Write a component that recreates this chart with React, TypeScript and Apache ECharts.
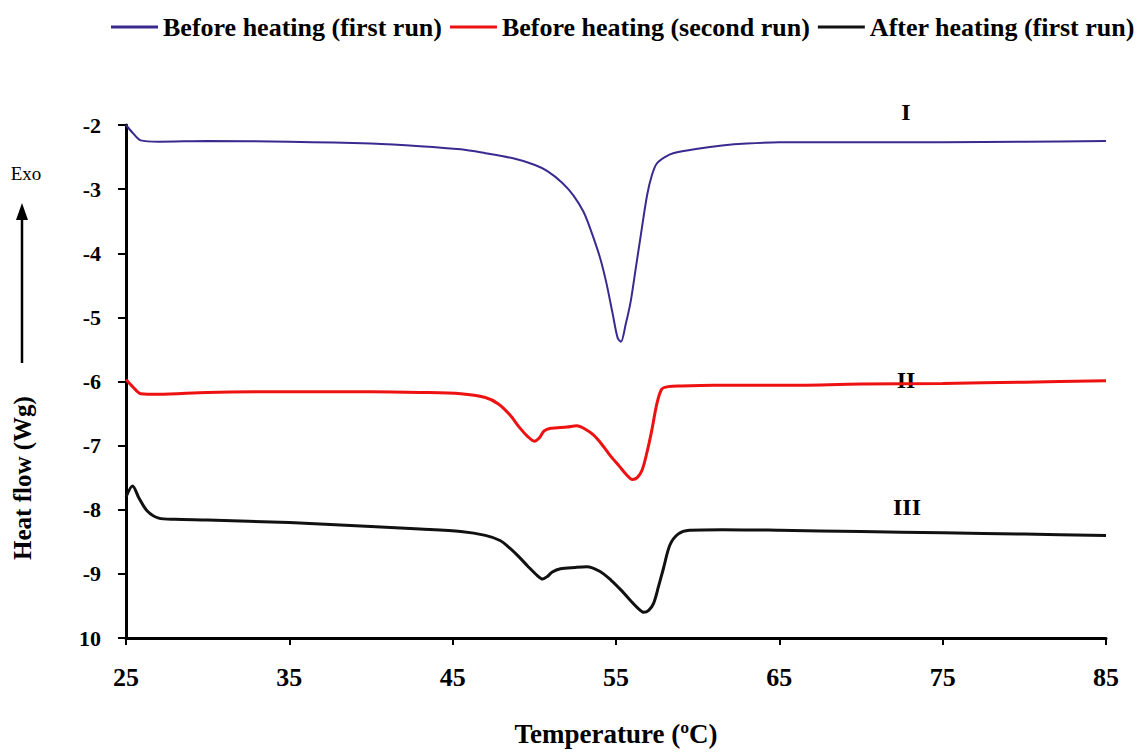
import React, { useEffect, useRef } from "react";
import * as echarts from "echarts";

const seriesNames = ["Before heating (first run)", "Before heating (second run)", "After heating (first run)"];
const seriesColors = ["#3a2a90", "#ee1111", "#111111"];

const beforeFirst: [number, number][] = [
  [25, -2.0], [25.4, -2.12], [25.9, -2.24], [27, -2.26], [30, -2.25], [35, -2.26], [40, -2.29],
  [43, -2.33], [45.5, -2.38], [47, -2.44], [48.7, -2.52], [50, -2.62], [50.8, -2.72], [51.7, -2.9],
  [52.4, -3.1], [53, -3.35], [53.4, -3.6], [54, -4.05], [54.4, -4.45], [54.8, -4.95], [55.1, -5.32],
  [55.3, -5.38], [55.6, -5.1], [55.9, -4.75], [56.2, -4.25], [56.5, -3.75], [56.9, -3.1],
  [57.2, -2.78], [57.5, -2.6], [58, -2.5], [58.5, -2.44], [60, -2.37], [61.5, -2.32], [63, -2.29],
  [65, -2.27], [70, -2.27], [75, -2.27], [80, -2.26], [85, -2.25],
];

const beforeSecond: [number, number][] = [
  [25, -5.97], [25.4, -6.08], [25.9, -6.19], [27, -6.2], [30, -6.17], [35, -6.16], [40, -6.16],
  [43, -6.17], [45.5, -6.19], [47, -6.25], [47.8, -6.35], [48.5, -6.52], [49.1, -6.72], [49.6, -6.86],
  [50.0, -6.93], [50.3, -6.88], [50.6, -6.77], [51, -6.73], [52, -6.71], [52.6, -6.69], [53.1, -6.74],
  [53.6, -6.83], [54.1, -6.97], [54.6, -7.14], [55.2, -7.32], [55.7, -7.47], [56.0, -7.53],
  [56.3, -7.5], [56.6, -7.38], [56.9, -7.1], [57.2, -6.75], [57.5, -6.35], [57.8, -6.12],
  [58.2, -6.08], [59, -6.07], [61, -6.06], [65, -6.06], [70, -6.04], [75, -6.03], [80, -6.01], [85, -5.99],
];

const afterFirst: [number, number][] = [
  [25, -7.8], [25.4, -7.63], [25.8, -7.82], [26.3, -8.02], [27, -8.13], [28, -8.15], [30, -8.16],
  [35, -8.2], [40, -8.26], [43, -8.3], [45.5, -8.34], [47, -8.4], [47.9, -8.48], [48.5, -8.6],
  [49, -8.72], [49.6, -8.88], [50.2, -9.03], [50.5, -9.08], [50.8, -9.04], [51.1, -8.97],
  [51.6, -8.92], [52.5, -8.9], [53.2, -8.89], [54, -8.96], [54.7, -9.1], [55.3, -9.25],
  [55.9, -9.42], [56.4, -9.55], [56.7, -9.6], [57.0, -9.57], [57.3, -9.46], [57.6, -9.2],
  [57.9, -8.92], [58.3, -8.55], [58.8, -8.38], [59.5, -8.32], [61.5, -8.31], [65, -8.32],
  [70, -8.34], [75, -8.36], [80, -8.38], [85, -8.4],
];

const curveLabels = ["I", "II", "III"];
const xTitle = "Temperature (ºC)";
const yTitle = "Heat flow (Wg)";
const exoLabel = "Exo";

const FONT = "'Liberation Serif', 'Times New Roman', serif";

export default function App() {
  const ref = useRef<HTMLDivElement>(null);
  useEffect(() => {
    if (!ref.current) return;
    const chart = echarts.init(ref.current, null, { renderer: "svg" });
    const datasets = [beforeFirst, beforeSecond, afterFirst];
    const widths = [2, 3, 3];
    chart.setOption({
      animation: false,
      backgroundColor: "#ffffff",
      textStyle: { fontFamily: FONT },
      legend: {
        top: 9,
        left: 106,
        icon: "rect",
        itemWidth: 47,
        itemHeight: 3,
        itemGap: 8,
        data: seriesNames,
        textStyle: { fontFamily: FONT, fontWeight: "bold", fontSize: 26, color: "#000" },
      },
      grid: { left: 126, right: 37, top: 125, bottom: 110 },
      xAxis: {
        type: "value",
        min: 25,
        max: 85,
        interval: 10,
        name: xTitle,
        nameLocation: "middle",
        nameGap: 82,
        nameTextStyle: { fontFamily: FONT, fontWeight: "bold", fontSize: 27, color: "#000" },
        axisLine: { lineStyle: { color: "#000", width: 3 } },
        axisTick: { show: true, length: 7, lineStyle: { color: "#000", width: 2 } },
        axisLabel: { margin: 26, fontFamily: FONT, fontWeight: "bold", fontSize: 26, color: "#000" },
        splitLine: { show: false },
      },
      yAxis: {
        type: "value",
        min: -10,
        max: -2,
        interval: 1,
        axisLine: { show: true, lineStyle: { color: "#000", width: 3 } },
        axisTick: { show: true, length: 8, lineStyle: { color: "#000", width: 2 } },
        axisLabel: {
          margin: 25,
          fontFamily: FONT,
          fontWeight: "bold",
          fontSize: 22,
          color: "#000",
          formatter: (v: number) => (v === -10 ? "10" : String(v)),
        },
        splitLine: { show: false },
      },
      series: datasets.map((d, i) => ({
        name: seriesNames[i],
        type: "line",
        data: d,
        smooth: 0.3,
        showSymbol: false,
        symbol: "none",
        color: seriesColors[i],
        lineStyle: { color: seriesColors[i], width: widths[i] },
      })),
      graphic: [
        { type: "text", x: 906, y: 112, style: { text: curveLabels[0], font: `bold 24px ${FONT}`, fill: "#000", align: "center", verticalAlign: "middle" } },
        { type: "text", x: 906, y: 380, style: { text: curveLabels[1], font: `bold 24px ${FONT}`, fill: "#000", align: "center", verticalAlign: "middle" } },
        { type: "text", x: 907, y: 507, style: { text: curveLabels[2], font: `bold 24px ${FONT}`, fill: "#000", align: "center", verticalAlign: "middle" } },
        { type: "text", x: 26, y: 173, style: { text: exoLabel, font: `19px ${FONT}`, fill: "#000", align: "center", verticalAlign: "middle" } },
        { type: "line", shape: { x1: 22, y1: 363, x2: 22, y2: 215 }, style: { stroke: "#000", lineWidth: 2.5 } },
        { type: "polygon", shape: { points: [[16, 220], [28, 220], [22, 203]] }, style: { fill: "#000" } },
        {
          type: "text",
          x: 22,
          y: 478,
          rotation: Math.PI / 2,
          style: { text: yTitle, font: `bold 25px ${FONT}`, fill: "#000", align: "center", verticalAlign: "middle" },
        },
      ],
    });
    return () => chart.dispose();
  }, []);
  return <div ref={ref} style={{ position: "fixed", left: 0, top: 0, width: 1143, height: 752 }} />;
}
